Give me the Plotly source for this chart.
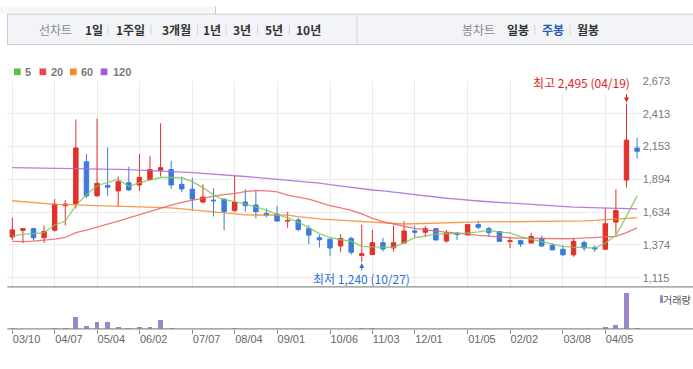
import plotly.graph_objects as go

W, H = 693, 369

# ---------------- data (weekly candles, index 0..59) ----------------
week_idx = list(range(60))
opens = [1437, 1491, 1504, 1432, 1491, 1686, 1699, 2034, 1764, 1847,
         1803, 1868, 1850, 1894, 1966, 1972, 1855, 1816, 1715, 1730,
         1738, 1647, 1715, 1691, 1624, 1619, 1564, 1572, 1504, 1432,
         1421, 1367, 1427, 1292, 1299, 1393, 1351, 1390, 1486, 1476,
         1504, 1406, 1468, 1453, 1536, 1504, 1481, 1403, 1411, 1390,
         1427, 1372, 1341, 1297, 1393, 1354, 1341, 1556, 1889, 2143]
highs = [1590, 1504, 1512, 1528, 1738, 1730, 2369, 2096, 2377, 2148,
         1917, 1995, 2096, 2081, 2338, 2042, 1915, 1907, 1855, 1824,
         1742, 1922, 1816, 1803, 1665, 1684, 1637, 1590, 1530, 1458,
         1421, 1460, 1440, 1536, 1494, 1432, 1528, 1564, 1528, 1523,
         1504, 1494, 1476, 1536, 1567, 1520, 1481, 1440, 1411, 1473,
         1450, 1388, 1372, 1432, 1408, 1372, 1668, 1816, 2495, 2223]
lows = [1414, 1390, 1408, 1390, 1481, 1530, 1663, 1746, 1754, 1764,
        1681, 1803, 1803, 1886, 1917, 1821, 1795, 1647, 1704, 1600,
        1491, 1634, 1639, 1585, 1595, 1562, 1510, 1484, 1382, 1356,
        1289, 1317, 1297, 1240, 1295, 1323, 1323, 1390, 1437, 1437,
        1414, 1393, 1414, 1453, 1499, 1440, 1403, 1351, 1359, 1390,
        1359, 1336, 1289, 1281, 1328, 1320, 1336, 1458, 1829, 2060]
closes = [1494, 1504, 1432, 1481, 1699, 1699, 2143, 1764, 1863, 1832,
          1876, 1811, 1909, 1972, 1987, 1850, 1819, 1738, 1754, 1725,
          1639, 1715, 1686, 1639, 1611, 1564, 1569, 1497, 1453, 1416,
          1351, 1427, 1317, 1305, 1393, 1343, 1393, 1486, 1476, 1504,
          1414, 1471, 1458, 1536, 1515, 1473, 1403, 1408, 1382, 1442,
          1367, 1336, 1297, 1403, 1351, 1343, 1543, 1647, 2205, 2117]
volumes = [130, 25, 25, 25, 130, 130, 1230, 330, 730, 730,
           230, 130, 230, 230, 930, 130, 25, 25, 25, 25,
           25, 130, 25, 25, 25, 25, 25, 25, 25, 25,
           25, 25, 25, 130, 130, 25, 25, 25, 25, 25,
           25, 25, 25, 25, 25, 25, 25, 25, 25, 25,
           25, 25, 25, 25, 25, 25, 230, 430, 3630, 130]

ma5 = [1442, 1460, 1465, 1473, 1533, 1564, 1689, 1772, 1844, 1870,
       1896, 1837, 1868, 1889, 1909, 1909, 1907, 1876, 1829, 1772,
       1733, 1718, 1699, 1676, 1650, 1616, 1590, 1556, 1512, 1465,
       1434, 1416, 1405, 1364, 1359, 1359, 1356, 1393, 1432, 1445,
       1460, 1465, 1465, 1471, 1478, 1491, 1476, 1471, 1440, 1419,
       1401, 1377, 1364, 1358, 1354, 1351, 1390, 1452, 1603, 1764]
ma20 = [1403, 1401, 1406, 1411, 1421, 1434, 1472, 1492, 1514, 1538,
        1564, 1590, 1616, 1642, 1668, 1691, 1712, 1730, 1746, 1761,
        1774, 1783, 1798, 1806, 1803, 1795, 1769, 1754, 1738, 1712,
        1686, 1668, 1648, 1621, 1585, 1559, 1538, 1523, 1507, 1494,
        1484, 1476, 1468, 1455, 1450, 1445, 1437, 1432, 1429, 1427,
        1424, 1424, 1424, 1425, 1429, 1429, 1432, 1442, 1473, 1510]
ma60 = [1725, 1717, 1712, 1704, 1696, 1694, 1691, 1689, 1686, 1684,
        1681, 1679, 1676, 1675, 1673, 1668, 1660, 1652, 1645, 1637,
        1629, 1621, 1613, 1612, 1611, 1611, 1611, 1600, 1590, 1582,
        1576, 1571, 1566, 1561, 1556, 1548, 1543, 1541, 1543, 1546,
        1548, 1551, 1554, 1556, 1557, 1557, 1558, 1558, 1558, 1559,
        1559, 1559, 1560, 1562, 1566, 1569, 1573, 1578, 1585, 1592]
ma120 = [1988, 1987, 1986, 1985, 1984, 1983, 1982, 1980, 1978, 1976,
         1974, 1971, 1968, 1965, 1961, 1957, 1952, 1947, 1942, 1937,
         1930, 1922, 1917, 1910, 1903, 1896, 1889, 1882, 1874, 1865,
         1852, 1840, 1828, 1818, 1810, 1803, 1793, 1782, 1771, 1761,
         1752, 1745, 1738, 1729, 1723, 1717, 1711, 1705, 1700, 1695,
         1690, 1685, 1680, 1675, 1672, 1669, 1666, 1664, 1662, 1661]

tick_idx = [0, 4, 8, 12, 17, 21, 25, 30, 34, 38, 43, 47, 52, 56]
tick_labels = ["03/10", "04/07", "05/04", "06/02", "07/07", "08/04", "09/01",
               "10/06", "11/03", "12/01", "01/05", "02/02", "03/08", "04/05"]
price_ticks = [1115.0, 1374.67, 1634.33, 1894.0, 2153.67, 2413.33, 2673.0]
price_tick_labels = ["1,115", "1,374", "1,634", "1,894", "2,153", "2,413", "2,673"]
high_label = "최고 2,495 (04/19)"
low_label = "최저 1,240 (10/27)"
ma_names = ["5", "20", "60", "120"]

# ---------------- style ----------------
RED = "#e2302a"
BLUE = "#3a7bdc"
VOL = "#9b86c8"
MA_COLORS = ["#78c95c", "#ef6262", "#f58b2c", "#a868d8"]
LEG_COLORS = ["#5cc13f", "#e9464a", "#f7891f", "#a25ad6"]
GRID = "#ebebeb"
KFONT = "Noto Sans CJK KR"


def px(x):
    return x / W


def py(y):
    return 1 - y / H


fig = go.Figure()

for vals, col, name in zip([ma120, ma60, ma20, ma5], MA_COLORS[::-1], ma_names[::-1]):
    fig.add_trace(go.Scatter(x=week_idx, y=vals, mode="lines", name=name,
                             line=dict(color=col, width=1.3), opacity=0.85,
                             xaxis="x", yaxis="y", showlegend=False,
                             hoverinfo="skip"))

fig.add_trace(go.Candlestick(
    x=week_idx, open=opens, high=highs, low=lows, close=closes,
    increasing=dict(line=dict(color=RED, width=1), fillcolor=RED),
    decreasing=dict(line=dict(color=BLUE, width=1), fillcolor=BLUE),
    whiskerwidth=0, xaxis="x", yaxis="y", showlegend=False))

fig.add_trace(go.Bar(x=week_idx, y=volumes, marker=dict(color=VOL, line=dict(width=0)),
                     width=0.46, xaxis="x2", yaxis="y2", showlegend=False))

x_dom = [px(7.3), px(641.7)]
x_rng = [-0.475, 59.436]

shapes = []
annotations = []

# strip above the menu bar (left tab area)
shapes.append(dict(type="rect", xref="paper", yref="paper", x0=0, x1=px(215.5),
                   y0=py(8.3), y1=1, fillcolor="#f7f7f8", line=dict(width=0), layer="below"))
# top menu bar
shapes.append(dict(type="rect", xref="paper", yref="paper", x0=px(7.5), x1=px(693.5),
                   y0=py(39.3), y1=py(8.3), fillcolor="#f2f4f7",
                   line=dict(color="#c9cdd3", width=1), layer="below"))
shapes.append(dict(type="line", xref="paper", yref="paper", x0=px(357), x1=px(357),
                   y0=py(39.3), y1=py(8.3), line=dict(color="#d3d6db", width=1)))
shapes.append(dict(type="line", xref="paper", yref="paper", x0=px(215.5), x1=px(215.5),
                   y0=py(8.3), y1=py(0), line=dict(color="#c9cdd3", width=1)))

left_items = [("선차트", 55.6, "#8a8a8a", False), ("1일", 93.6, "#333", True),
              ("1주일", 130.4, "#333", True), ("3개월", 176.3, "#333", True),
              ("1년", 211.5, "#333", True), ("3년", 242, "#333", True),
              ("5년", 273.5, "#333", True), ("10년", 308.5, "#333", True),
              ("봉차트", 478.3, "#8a8a8a", False), ("일봉", 518.3, "#333", True),
              ("주봉", 553.3, "#2a5ab8", True), ("월봉", 588.4, "#333", True)]
for txt, cx, col, bold in left_items:
    annotations.append(dict(xref="paper", yref="paper", x=px(cx), y=py(24.3),
                            text=f"<b>{txt}</b>" if bold else txt, showarrow=False,
                            xanchor="center", yanchor="middle",
                            font=dict(family=KFONT, size=12, color=col)))
for sx in [108, 151, 197.5, 226, 257.6, 289.4, 534.7, 570]:
    shapes.append(dict(type="line", xref="paper", yref="paper", x0=px(sx), x1=px(sx),
                       y0=py(29), y1=py(19.5), line=dict(color="#d0d3d8", width=1)))

# MA legend
leg_sq = [14, 39.5, 70, 100.7]
leg_tx = [23, 48.5, 79, 110.5]
for name, col, sqx, tx in zip(ma_names, LEG_COLORS, leg_sq, leg_tx):
    shapes.append(dict(type="rect", xref="paper", yref="paper", x0=px(sqx), x1=px(sqx + 6.7),
                       y0=py(70.3), y1=py(63.5), fillcolor=col, line=dict(width=0)))
    annotations.append(dict(xref="paper", yref="paper", x=px(tx), y=py(67),
                            text=f"<b>{name}</b>", showarrow=False, xanchor="left",
                            yanchor="middle",
                            font=dict(family="Liberation Sans", size=11, color="#7a7a7a")))

# panel separator lines
shapes.append(dict(type="line", xref="paper", yref="paper", x0=px(7.3), x1=1,
                   y0=py(285.5), y1=py(285.5), line=dict(color="#8c8c8c", width=1.2)))
shapes.append(dict(type="line", xref="paper", yref="paper", x0=px(7.3), x1=1,
                   y0=py(328.3), y1=py(328.3), line=dict(color="#8c8c8c", width=1.2)))

# volume legend
shapes.append(dict(type="rect", xref="paper", yref="paper", x0=px(660), x1=px(663),
                   y0=py(302), y1=py(294), fillcolor=VOL, line=dict(width=0)))
annotations.append(dict(xref="paper", yref="paper", x=px(692.5), y=py(298),
                        text="거래량", showarrow=False, xanchor="right", yanchor="middle",
                        font=dict(family=KFONT, size=10, color="#555")))

# high / low labels
hi_i = highs.index(max(highs))
lo_i = lows.index(min(lows))
annotations.append(dict(xref="x", yref="y", x=hi_i, y=highs[hi_i], text=high_label,
                        showarrow=False, xanchor="right", yanchor="middle",
                        xshift=6, yshift=21, bgcolor="white",
                        font=dict(family=KFONT, size=12, color="#e3221c")))
annotations.append(dict(xref="x", yref="y", x=hi_i, y=highs[hi_i], text="",
                        showarrow=True, ax=0, ay=-11, arrowhead=2, arrowsize=1,
                        arrowwidth=1, arrowcolor="#e3221c", standoff=1))
annotations.append(dict(xref="x", yref="y", x=lo_i, y=lows[lo_i], text=low_label,
                        showarrow=False, xanchor="center", yanchor="middle",
                        yshift=-17, font=dict(family=KFONT, size=12, color="#2b6fd6")))
annotations.append(dict(xref="x", yref="y", x=lo_i, y=lows[lo_i], text="",
                        showarrow=True, ax=0, ay=10, arrowhead=2, arrowsize=1,
                        arrowwidth=1, arrowcolor="#2b6fd6", standoff=1))

fig.update_layout(
    width=W, height=H, margin=dict(l=0, r=0, t=0, b=0),
    paper_bgcolor="white", plot_bgcolor="white",
    boxgap=0.4, boxgroupgap=0.3, bargap=0,
    xaxis=dict(domain=x_dom, range=x_rng, anchor="y", tickvals=tick_idx,
               showticklabels=False, showgrid=True, gridcolor=GRID, gridwidth=1,
               zeroline=False, ticks="", rangeslider=dict(visible=False), fixedrange=True),
    yaxis=dict(domain=[py(285.5), py(76.3)], range=[1043, 2673], side="right",
               anchor="x", tickvals=price_ticks, ticktext=price_tick_labels,
               showgrid=True, gridcolor=GRID, gridwidth=1, zeroline=False, ticks="",
               tickfont=dict(family="Liberation Sans", size=11, color="#777"),
               ticklabelstandoff=0, fixedrange=True),
    xaxis2=dict(domain=x_dom, range=x_rng, anchor="y2", tickvals=tick_idx,
                ticktext=tick_labels, showgrid=False, zeroline=False, ticks="outside",
                ticklen=4, tickcolor="#8c8c8c", ticklabelposition="outside right",
                tickfont=dict(family="Liberation Sans", size=11, color="#666"),
                fixedrange=True),
    yaxis2=dict(domain=[py(328.3), py(285.5)], range=[0, 4280], anchor="x2",
                visible=False, fixedrange=True),
    shapes=shapes, annotations=annotations, showlegend=False,
)

fig.write_html(
    "out.html",
    config={"displayModeBar": False, "staticPlot": True},
    post_script=("document.body.style.margin='0';document.body.style.padding='0';"
                 "var d=document.getElementById('{plot_id}');"
                 "d.style.position='absolute';d.style.left='0px';d.style.top='0px';"),
)
